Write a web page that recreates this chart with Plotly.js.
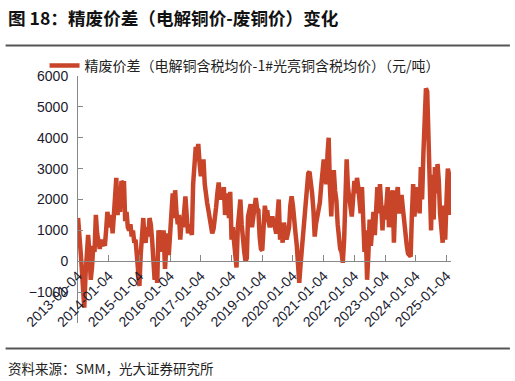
<!DOCTYPE html>
<html><head><meta charset="utf-8">
<script src="https://cdn.plot.ly/plotly-3.0.1.min.js"></script>
<style>html,body{margin:0;padding:0;background:#fff}#chart{width:515px;height:381px}</style>
</head><body><div id="chart"></div>
<script>
const chartTitle = '图 18：精废价差（电解铜价-废铜价）变化';
const sourceText = '资料来源：SMM，光大证券研究所';
const seriesName = '精废价差（电解铜含税均价-1#光亮铜含税均价）（元/吨）';

// semi-monthly readings (4th and 19th of each month), 元/吨
const years = [2013,2014,2015,2016,2017,2018,2019,2020,2021,2022,2023,2024,2025];
const v2013 = [1400,1000,300,-300,-900,-1500,-400,500,850,300,-600,-200,500,300,1500,900,500,400,700,500,600,500,1000,1600];
const v2014 = [1300,1100,1500,900,1400,2000,2700,1500,1900,1600,2600,2500,2600,1300,1600,1100,1000,1200,800,1000,600,700,100,-300];
const v2015 = [-800,200,900,1400,800,600,1100,800,1400,1200,700,200,-600,-200,-700,1000,700,1000,300,1000,-250,400,900,200];
const v2016 = [1000,1700,2200,1400,2300,1600,1200,1500,700,1300,1100,1600,2100,1500,900,1200,1000,850,2500,3400,3700,3500,3800,3200];
const v2017 = [2750,3100,3300,2500,2100,1900,1650,1300,1100,900,1050,1600,1750,2200,2550,2000,2200,2000,2400,1500,1800,2200,1400,2250];
const v2018 = [700,1100,600,0,-200,1100,1600,2000,1200,600,300,0,100,1450,1600,1850,1100,1500,1800,2050,1700,1650,800,400];
const v2019 = [350,1100,1800,1500,1650,1300,1100,1300,1450,1200,1100,900,1500,2000,700,1000,600,1250,1000,700,900,1100,1800,2100];
const v2020 = [1800,1100,900,500,50,-700,-100,350,900,1350,1800,2500,2850,2900,2600,2200,1650,800,1200,1400,1650,1900,2400,2800];
const v2021 = [3300,2800,2500,3500,4000,2400,1450,2600,2950,2300,1950,1200,700,400,300,-50,700,2200,3300,2400,1950,1700,1450,2000];
const v2022 = [2600,2200,2700,2400,2000,1550,2400,1200,300,1000,-600,200,1350,500,1100,1600,850,1500,2400,1550,2500,1800,1000,1800];
const v2023 = [1350,1800,2400,1100,1700,2000,2300,600,1800,2100,2400,1550,1900,2150,1700,1200,900,500,250,200,150,1500,2500,1450];
const v2024 = [1800,2400,2000,1550,3050,2000,3500,4500,5600,5500,4000,2250,1000,2800,1350,3050,2200,3150,2600,1550,900,600,1800,700];
const v2025 = [2000,3000,2800,1500];
const yearValues = [v2013,v2014,v2015,v2016,v2017,v2018,v2019,v2020,v2021,v2022,v2023,v2024,v2025];

const xTickLabels = ['2013-01-04','2014-01-04','2015-01-04','2016-01-04','2017-01-04','2018-01-04','2019-01-04','2020-01-04','2021-01-04','2022-01-04','2023-01-04','2024-01-04','2025-01-04'];
const yTickVals = [-1000,0,1000,2000,3000,4000,5000,6000];

const xs = [], ys = [];
yearValues.forEach((vals, i) => {
  vals.forEach((v, k) => {
    const m = Math.floor(k / 2) + 1;
    const d = (k % 2) ? '19' : '04';
    xs.push(years[i] + '-' + String(m).padStart(2, '0') + '-' + d);
    ys.push(v);
  });
});

const L = 77.5, R = 451, T = 76, B = 322.6, W = 515, H = 381;
const pw = R - L, ph = B - T;
const px = x => (x - L) / pw;
const py = y => (B - y) / ph;

const trace = {
  x: xs, y: ys, type: 'scatter', mode: 'lines', name: seriesName,
  line: {color: '#C9452A', width: 4.5}
};

const layout = {
  width: W, height: H,
  margin: {l: L, r: W - R, t: T, b: H - B, pad: 0},
  paper_bgcolor: '#fff', plot_bgcolor: 'rgba(0,0,0,0)',
  showlegend: true,
  legend: {x: px(44), y: py(66), xanchor: 'left', yanchor: 'middle', orientation: 'h',
           font: {family: 'Noto Sans CJK SC', size: 14, color: '#222'}, bgcolor: 'rgba(0,0,0,0)'},
  xaxis: {
    type: 'date', range: ['2013-01-03 12:00', '2025-02-26'],
    anchor: 'free', position: 0.25,
    tickmode: 'array', tickvals: xTickLabels, ticktext: xTickLabels, tickangle: -45,
    ticks: 'inside', ticklen: 6, tickcolor: '#888', tickwidth: 1,
    showline: true, linecolor: '#888', linewidth: 1, showgrid: false, zeroline: false,
    tickfont: {family: 'Liberation Sans, Arial', size: 14, color: '#1a1a2e'}
  },
  yaxis: {
    range: [-2000, 6000], tickmode: 'array', tickvals: yTickVals,
    ticks: 'inside', ticklen: 5, tickcolor: '#888', tickwidth: 1,
    showline: true, linecolor: '#888', linewidth: 1, showgrid: false, zeroline: false,
    ticklabelstandoff: 6,
    tickfont: {family: 'Liberation Sans, Arial', size: 14, color: '#1a1a2e'}
  },
  shapes: [
    {type: 'line', xref: 'paper', yref: 'paper', x0: px(5), x1: px(510), y0: py(45.5), y1: py(45.5), line: {color: '#555', width: 2}},
    {type: 'line', xref: 'paper', yref: 'paper', x0: px(5), x1: px(510), y0: py(348), y1: py(348), line: {color: '#555', width: 2}}
  ],
  annotations: [
    {text: '<b>' + chartTitle + '</b>', xref: 'paper', yref: 'paper', x: px(5), y: py(18), xanchor: 'left', yanchor: 'middle', showarrow: false,
     font: {family: 'Noto Sans CJK SC', size: 17.6, color: '#111'}},
    {text: sourceText, xref: 'paper', yref: 'paper', x: px(5), y: py(368), xanchor: 'left', yanchor: 'middle', showarrow: false,
     font: {family: 'Noto Sans CJK SC', size: 13.5, color: '#222'}}
  ]
};

Plotly.newPlot('chart', [trace], layout, {displayModeBar: false, staticPlot: true});
</script></body></html>
